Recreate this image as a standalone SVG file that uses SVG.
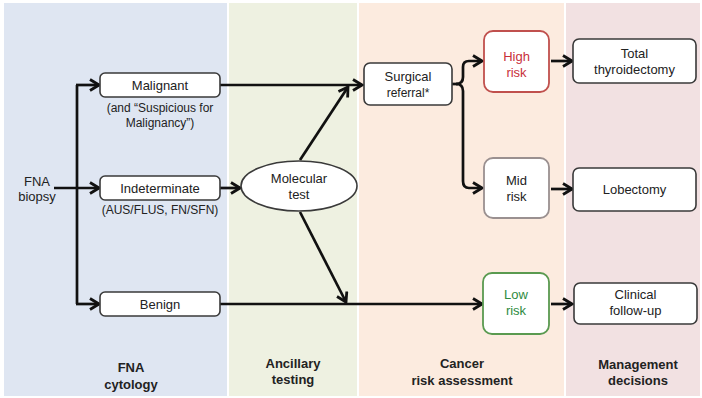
<svg xmlns="http://www.w3.org/2000/svg" width="702" height="398" viewBox="0 0 702 398">
<defs>
<marker id="arr" viewBox="0 0 14 14" refX="12" refY="7" markerWidth="14" markerHeight="14" markerUnits="userSpaceOnUse" orient="auto">
<path d="M3,1.5 L12,7 L3,12.5" fill="none" stroke="#111" stroke-width="2.8" stroke-linejoin="miter"/>
</marker>
</defs>
<style>
text{font-family:"Liberation Sans",Arial,sans-serif;fill:#222;text-anchor:middle}
.lbl{font-size:13px}
.sub{font-size:12px}
.hdr{font-size:13px;font-weight:bold}
.box{fill:#fff;stroke:#3a3a3a;stroke-width:1.6}
.ln{fill:none;stroke:#111;stroke-width:2.7}
.a{marker-end:url(#arr)}
</style>
<rect width="702" height="398" fill="#fff"/>
<g id="panels">
<rect x="4" y="3" width="223" height="393" fill="#dfe6f2"/>
<rect x="229" y="3" width="128" height="393" fill="#eef1e1"/>
<rect x="359" y="3" width="205" height="393" fill="#fcebdf"/>
<rect x="566" y="3" width="134" height="393" fill="#f2e1e2"/>
</g>
<g id="headers">
<text class="hdr" x="131" y="372">FNA</text>
<text class="hdr" x="131" y="389">cytology</text>
<text class="hdr" x="293" y="368">Ancillary</text>
<text class="hdr" x="293" y="384">testing</text>
<text class="hdr" x="462" y="368">Cancer</text>
<text class="hdr" x="462" y="385">risk assessment</text>
<text class="hdr" x="638" y="369">Management</text>
<text class="hdr" x="638" y="385">decisions</text>
</g>
<g id="connectors">
<path class="ln a" d="M54,188 H99"/>
<path class="ln" d="M77,85 V304"/>
<path class="ln a" d="M76,85 H99"/>
<path class="ln a" d="M76,304 H99"/>
<path class="ln a" d="M220,85 H362"/>
<path class="ln a" d="M220,188 H240"/>
<path class="ln a" d="M300,160 L348,87"/>
<path class="ln a" d="M300,212 L346,302"/>
<path class="ln a" d="M220,304 H482"/>
<path class="ln" d="M452,84 H458"/>
<path class="ln a" d="M456,84 Q463,84 463,77 V67 Q463,61 469,61 H482"/>
<path class="ln a" d="M456,84 Q463,84 463,91 V181 Q463,188 469,188 H482"/>
<path class="ln a" d="M551,61 H572"/>
<path class="ln a" d="M551,189 H572"/>
<path class="ln a" d="M551,304 H572"/>
</g>
<g id="fna">
<text class="lbl" x="37" y="186">FNA</text>
<text class="lbl" x="37" y="201">biopsy</text>
</g>
<g id="malignant">
<rect class="box" x="100" y="73" width="120" height="24" rx="5"/>
<text class="lbl" x="160" y="90">Malignant</text>
<text class="sub" x="160" y="112">(and “Suspicious for</text>
<text class="sub" x="160" y="127">Malignancy”)</text>
</g>
<g id="indeterminate">
<rect class="box" x="100" y="176" width="120" height="24" rx="5"/>
<text class="lbl" x="160" y="193">Indeterminate</text>
<text class="sub" x="160" y="214">(AUS/FLUS, FN/SFN)</text>
</g>
<g id="benign">
<rect class="box" x="100" y="292" width="120" height="24" rx="5"/>
<text class="lbl" x="160" y="309">Benign</text>
</g>
<g id="molecular">
<ellipse class="box" cx="299" cy="186" rx="58" ry="25"/>
<text class="lbl" x="299" y="183">Molecular</text>
<text class="lbl" x="299" y="199">test</text>
</g>
<g id="surgical">
<rect class="box" x="364" y="63" width="88" height="42" rx="6"/>
<text class="lbl" x="408" y="81">Surgical</text>
<text class="sub" x="408" y="97">referral*</text>
</g>
<g id="high">
<rect x="484" y="31" width="65" height="61" rx="9" fill="#fff" stroke="#c0504d" stroke-width="1.8"/>
<text class="lbl" x="516.5" y="61" style="fill:#c8303a">High</text>
<text class="lbl" x="516.5" y="77" style="fill:#c8303a">risk</text>
</g>
<g id="mid">
<rect x="484" y="158" width="65" height="60" rx="9" fill="#fff" stroke="#9a9090" stroke-width="1.8"/>
<text class="lbl" x="516.5" y="185">Mid</text>
<text class="lbl" x="516.5" y="201">risk</text>
</g>
<g id="low">
<rect x="483" y="273" width="66" height="61" rx="9" fill="#fff" stroke="#5a9a50" stroke-width="1.8"/>
<text class="lbl" x="516" y="299" style="fill:#2e8b3e">Low</text>
<text class="lbl" x="516" y="315" style="fill:#2e8b3e">risk</text>
</g>
<g id="total">
<rect class="box" x="573" y="39" width="123" height="44" rx="6"/>
<text class="lbl" x="634.5" y="58">Total</text>
<text class="lbl" x="634.5" y="74">thyroidectomy</text>
</g>
<g id="lobectomy">
<rect class="box" x="573" y="168" width="123" height="43" rx="6"/>
<text class="lbl" x="634.5" y="194">Lobectomy</text>
</g>
<g id="clinical">
<rect class="box" x="574" y="283" width="123" height="41" rx="6"/>
<text class="lbl" x="635.5" y="299">Clinical</text>
<text class="lbl" x="635.5" y="315">follow-up</text>
</g>
</svg>
